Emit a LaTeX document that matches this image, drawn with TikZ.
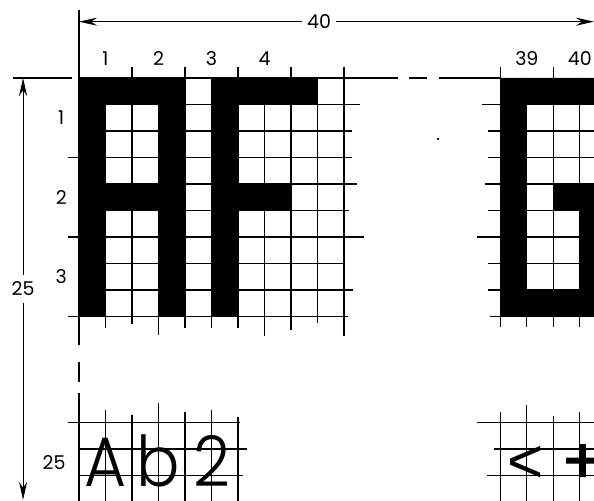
\documentclass[tikz,border=0pt]{standalone}
\usepackage{fontspec}
\setmainfont{Poppins}
\newfontfamily\glyphfont[FakeStretch=0.92]{Poppins Light}
\newfontfamily\signfont{Liberation Sans}
\newfontfamily\heavyfont[FakeBold=2]{Poppins}
\usetikzlibrary{arrows.meta}
\begin{document}
\begin{tikzpicture}[x=26.5pt, y=-26.5pt, line width=1.2pt,
        cell/.style = {fill=black},
        dim/.style = {line width=1pt, {Stealth[length=18pt, width=8pt]}-{Stealth[length=18pt, width=8pt]}},
        num/.style = {font=\fontsize{19}{19}\selectfont, inner sep=0pt},
        glyph/.style = {font=\glyphfont\fontsize{70}{70}\selectfont, inner sep=0pt, anchor=base}]
    \useasboundingbox (-2.981,-2.943) rectangle (19.434,15.962);

    % A and F
    \fill[cell] (0,0) rectangle (4,1) (0,0) rectangle (1,9) (3,0) rectangle (4,9) (0,4) rectangle (4,5);
    \fill[cell] (5,0) rectangle (9,1) (5,0) rectangle (6,9) (5,4) rectangle (8,5);

    \foreach \r/\s/\e in {1/0/10.6, 2/0/10.3, 3/-0.42/10.3, 4/0/10.5, 5/0/10.2, 6/-0.42/10.75, 7/0/10.05, 8/0/10.35, 9/-0.42/10.15}
        \draw (\s,\r) -- (\e,\r);
    \foreach \c/\s/\e in {1/0/9.45, 2/-0.42/9.3, 3/0/9.7, 4/-0.42/9.45, 5/0/9.45, 6/-0.42/9.45, 7/0/9.75, 8/-0.42/9.5, 9/0/9.25, 10/-0.42/9.75}
        \draw (\c,\s) -- (\c,\e);
    \draw (0,0) -- (10,0);
    \draw[line width=2.2pt] (10,0) -- (12.04,0) (12.47,0) -- (13.15,0) (13.6,0) -- (15.9,0);
    \draw (0,-2.57) -- (0,10.07) (0,10.72) -- (0,11.47) (0,11.89) -- (0,16.2);
    \draw (-2.5,0) -- (-0.28,0);
    \fill (13.55,2.3) circle (1.3pt);

    % lower line
    \draw (-0.42,13) -- (6.08,13) (0,14) -- (6.34,14) (0,15) -- (6.19,15);
    \foreach \c/\s in {1/12.53, 2/12.7, 3/12.26, 4/12.6, 5/12.53, 6/12.8}
        \draw (\c,\s) -- (\c,16.2);

    \node[num] (col1) at (1,-0.73) {1};
    \node[num] (col2) at (3,-0.73) {2};
    \node[num] (col3) at (5,-0.73) {3};
    \node[num] (col4) at (7,-0.73) {4};
    \node[num] (row1) at (-0.67,1.5) {1};
    \node[num] (row2) at (-0.67,4.5) {2};
    \node[num] (row3) at (-0.67,7.5) {3};
    \node[num] (row25) at (-0.94,14.5) {25};
    \node[glyph] (ga) at (1,15.43) {A};
    \node[glyph] (gb) at (3,15.43) {b};
    \node[glyph] (g2) at (5,15.43) {2};

    % G
    \begin{scope}[shift={(15.9,0)}]
        \fill[cell] (0,0) rectangle (3.54,1) (0,0) rectangle (1,9) (0,8) rectangle (3.54,9) (2,4) rectangle (3.54,5) (3,4) rectangle (3.54,8);
        \foreach \r/\s in {1/-0.68, 2/-0.45, 3/-0.45, 4/-0.57, 5/-0.45, 6/-0.87, 7/-0.45, 8/-0.45, 9/-0.38}
            \draw (\s,\r) -- (3.6,\r);
        \foreach \c/\s in {0/-0.42, 1/0, 2/-0.42, 3/0}
            \draw (\c,\s) -- (\c,9.4);
        \draw (-0.9,13) -- (3.6,13) (-0.23,14) -- (3.6,14) (-0.49,15) -- (3.6,15);
        \foreach \c/\s in {0/12.6, 1/12.34, 2/12.75, 3/12.6}
            \draw (\c,\s) -- (\c,16.2);
        \node[num] (col39) at (1,-0.73) {39};
        \node[num] (col40) at (3,-0.73) {40};
        \node[glyph, font=\signfont\fontsize{62}{62}\selectfont, anchor=center] (glt) at (0.95,14.57) {<};
        \node[glyph, font=\heavyfont\fontsize{62}{62}\selectfont, anchor=center] (gplus) at (3.1,14.57) {+};
    \end{scope}

    \coordinate (wl) at (0,-2.125);
    \coordinate (wr) at (19.434,-2.125);
    \draw[dim] (wl) -- node[num, pos=0.466, fill=white, inner xsep=5pt] (wlbl) {40} (wr);
    \coordinate (ht) at (-2.11,0);
    \coordinate (hb) at (-2.11,15.92);
    \draw[dim] (ht) -- node[num, fill=white, inner ysep=7pt] (hlbl) {25} (hb);
\end{tikzpicture}
\end{document}
